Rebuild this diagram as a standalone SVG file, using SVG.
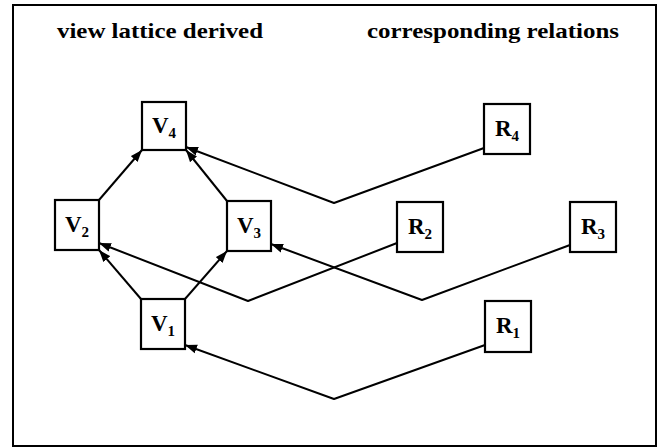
<svg xmlns="http://www.w3.org/2000/svg" width="664" height="448" viewBox="0 0 664 448">
<defs>
<marker id="ah" markerUnits="userSpaceOnUse" markerWidth="14" markerHeight="10" refX="12" refY="5" orient="auto">
<path d="M0,0.5 L12,5 L0,9.5 Z" fill="#000"/>
</marker>
<style>
.box{fill:#fff;stroke:#000;stroke-width:2.2}
.lbl{font-family:"Liberation Serif","DejaVu Serif",serif;font-size:23px;font-weight:bold;fill:#000;text-anchor:middle}
.sub{font-size:15px}
.title{font-family:"Liberation Serif","DejaVu Serif",serif;font-size:22px;font-weight:bold;fill:#000}
.edge{fill:none;stroke:#000;stroke-width:2;stroke-linejoin:round;marker-end:url(#ah)}
</style>
</defs>
<rect x="0" y="0" width="664" height="448" fill="#fff"/>
<rect x="13" y="5" width="643" height="441" fill="none" stroke="#000" stroke-width="2"/>
<text class="title" x="57" y="38" textLength="206" lengthAdjust="spacingAndGlyphs">view lattice derived</text>
<text class="title" x="367" y="38" textLength="252" lengthAdjust="spacingAndGlyphs">corresponding relations</text>
<g id="connectors">
<path class="edge" d="M99,200 L142,150"/>
<path class="edge" d="M227,201 L186,150"/>
<path class="edge" d="M141,299 L99,250"/>
<path class="edge" d="M185,299 L227,251"/>
<path class="edge" d="M484,148 L334,203 L186,147"/>
<path class="edge" d="M397,243 L248,301 L99,243"/>
<path class="edge" d="M570,245 L422,300 L271,244"/>
<path class="edge" d="M485,345 L334,399 L185,345"/>
</g>
<g id="V4"><rect class="box" x="142" y="102" width="44" height="48"/><text class="lbl" x="164" y="133">V<tspan class="sub" dy="5">4</tspan></text></g>
<g id="V2"><rect class="box" x="55" y="200" width="44" height="50"/><text class="lbl" x="77" y="232">V<tspan class="sub" dy="5">2</tspan></text></g>
<g id="V3"><rect class="box" x="227" y="201" width="44" height="50"/><text class="lbl" x="249" y="233">V<tspan class="sub" dy="5">3</tspan></text></g>
<g id="V1"><rect class="box" x="141" y="299" width="44" height="50"/><text class="lbl" x="163" y="331">V<tspan class="sub" dy="5">1</tspan></text></g>
<g id="R4"><rect class="box" x="484" y="104" width="46" height="50"/><text class="lbl" x="507" y="136">R<tspan class="sub" dy="5">4</tspan></text></g>
<g id="R2"><rect class="box" x="397" y="202" width="46" height="50"/><text class="lbl" x="420" y="234">R<tspan class="sub" dy="5">2</tspan></text></g>
<g id="R3"><rect class="box" x="570" y="202" width="46" height="50"/><text class="lbl" x="593" y="234">R<tspan class="sub" dy="5">3</tspan></text></g>
<g id="R1"><rect class="box" x="485" y="301" width="46" height="51"/><text class="lbl" x="508" y="333">R<tspan class="sub" dy="5">1</tspan></text></g>
</svg>
